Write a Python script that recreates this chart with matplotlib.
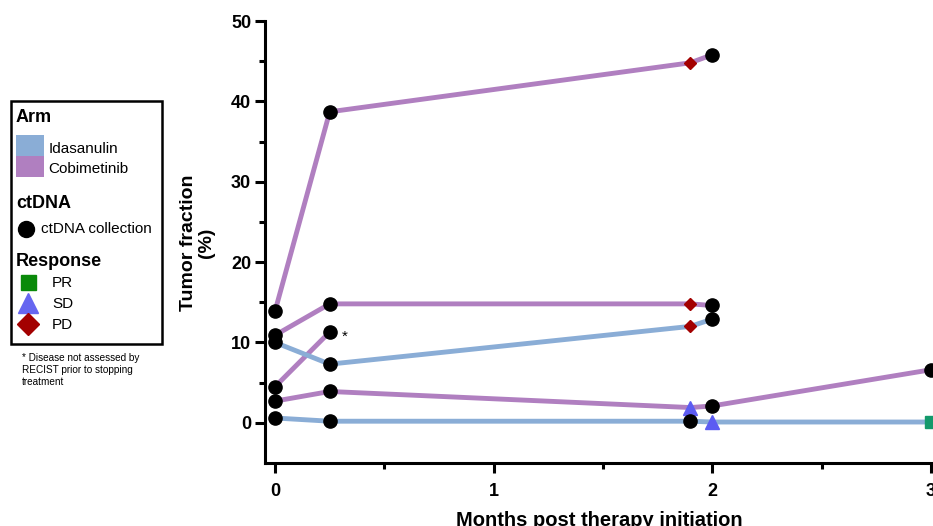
import numpy as np
import matplotlib.pyplot as plt
from matplotlib.patches import Rectangle
from matplotlib.lines import Line2D

# one entry per patient: months, tumor fraction (%), arm, marker at each visit
months_p1 = [0, 0.25, 1.9, 2.0]
tf_p1 = [13.9, 38.7, 44.8, 45.8]
marks_p1 = ['c', 'c', 'PD', 'c']

months_p2 = [0, 0.25, 1.9, 2.0]
tf_p2 = [10.9, 14.8, 14.8, 14.6]
marks_p2 = ['c', 'c', 'PD', 'c']

months_p3 = [0, 0.25]
tf_p3 = [4.5, 11.3]
marks_p3 = ['c', 'c']

months_p4 = [0, 0.25, 1.9, 2.0, 3.0]
tf_p4 = [2.7, 3.9, 1.9, 2.1, 6.6]
marks_p4 = ['c', 'c', 'SD', 'c', 'c']

months_p5 = [0, 0.25, 1.9, 2.0]
tf_p5 = [10.0, 7.3, 12.0, 12.9]
marks_p5 = ['c', 'c', 'PD', 'c']

months_p6 = [0, 0.25, 1.9, 2.0, 3.0]
tf_p6 = [0.6, 0.2, 0.2, 0.1, 0.1]
marks_p6 = ['c', 'c', 'c', 'SD', 'PR']

patients = [
    (months_p1, tf_p1, marks_p1, 'Cobimetinib'),
    (months_p2, tf_p2, marks_p2, 'Cobimetinib'),
    (months_p3, tf_p3, marks_p3, 'Cobimetinib'),
    (months_p4, tf_p4, marks_p4, 'Cobimetinib'),
    (months_p5, tf_p5, marks_p5, 'Idasanulin'),
    (months_p6, tf_p6, marks_p6, 'Idasanulin'),
]

arm_colors = {'Idasanulin': '#8aadd6', 'Cobimetinib': '#b07fc0'}
mark_style = {
    'c': dict(marker='o', color='black', ms=9.5),
    'PD': dict(marker='D', color='#a30000', ms=6.5),
    'SD': dict(marker='^', color='#5c5cf2', ms=10),
    'PR': dict(marker='s', color='#13996b', ms=9),
}

plt.rcParams['font.family'] = ['Liberation Sans', 'DejaVu Sans']

fig = plt.figure(figsize=(9.33, 5.26), dpi=100)
ax = fig.add_axes([265 / 933, 1 - 463 / 526, 668 / 933, 442 / 526])

for months, tf, marks, arm in patients:
    ax.plot(months, tf, color=arm_colors[arm], lw=3.5, zorder=2, solid_capstyle='butt')
    for x, y, m in zip(months, tf, marks):
        st = mark_style[m]
        ax.plot(x, y, linestyle='none', marker=st['marker'], ms=st['ms'],
                color=st['color'], mec=st['color'], zorder=3, clip_on=False)

ax.text(0.305, 10.7, '*', fontsize=11, va='center', ha='left')

ax.set_xlim(-0.046, 3.01)
ax.set_ylim(-5, 50)
ax.set_xticks([0, 1, 2, 3])
ax.set_xticks([0.5, 1.5, 2.5], minor=True)
ax.set_yticks([0, 10, 20, 30, 40, 50])
ax.set_yticks([5, 15, 25, 35, 45], minor=True)
for s in ['top', 'right']:
    ax.spines[s].set_visible(False)
for s in ['left', 'bottom']:
    ax.spines[s].set_linewidth(2.2)
ax.tick_params(which='major', length=7, width=2.2, labelsize=13, pad=3)
ax.tick_params(axis='x', which='major', pad=7.5)
ax.tick_params(which='minor', length=4, width=2.2)
for lab in ax.get_xticklabels() + ax.get_yticklabels():
    lab.set_fontweight('bold')

ax.set_xlabel('Months post therapy initiation', fontsize=14.5, fontweight='bold',
              labelpad=8)
ax.set_ylabel('Tumor fraction\n(%)', fontsize=14, fontweight='bold', linespacing=1.1)
ax.yaxis.set_label_coords((215 - 265) / 668, (463 - 243) / 442)

# custom legend box
ff = fig.transFigure
def fx(px):
    return px / 933
def fy(py):
    return 1 - py / 526

fig.patches.append(Rectangle((fx(11), fy(344)), fx(151), 243 / 526, transform=ff,
                             fill=False, lw=1.8, ec='black'))
fig.text(fx(16), fy(118), 'Arm', fontsize=13, fontweight='bold', va='center')
fig.patches.append(Rectangle((fx(16), fy(156)), fx(28), 21 / 526, transform=ff,
                             color=arm_colors['Idasanulin'], lw=0))
fig.patches.append(Rectangle((fx(16), fy(177)), fx(28), 21 / 526, transform=ff,
                             color=arm_colors['Cobimetinib'], lw=0))
fig.text(fx(49), fy(149), 'Idasanulin', fontsize=11, va='center')
fig.text(fx(48), fy(169), 'Cobimetinib', fontsize=11, va='center')
fig.text(fx(16), fy(203), 'ctDNA', fontsize=13, fontweight='bold', va='center')
fig.lines.append(Line2D([fx(26)], [fy(229)], transform=ff, marker='o', ms=11.5,
                        color='black', ls='none'))
fig.text(fx(41), fy(229), 'ctDNA collection', fontsize=11, va='center')
fig.text(fx(16), fy(262), 'Response', fontsize=13, fontweight='bold', va='center')
resp_rows = [('s', '#0a8a0a', 'PR', 282, 10.8), ('^', '#6666f0', 'SD', 303, 14),
             ('D', '#a30000', 'PD', 324, 11.5)]
for mk, col, lab, py, ms in resp_rows:
    fig.lines.append(Line2D([fx(28)], [fy(py)], transform=ff, marker=mk, ms=ms,
                            color=col, ls='none'))
    fig.text(fx(52), fy(py + 1), lab, fontsize=11, va='center')
fig.text(fx(22), fy(370), '* Disease not assessed by\nRECIST prior to stopping\ntreatment',
         fontsize=7.2, va='center', linespacing=1.25)

fig.savefig('out.png', dpi=100)
